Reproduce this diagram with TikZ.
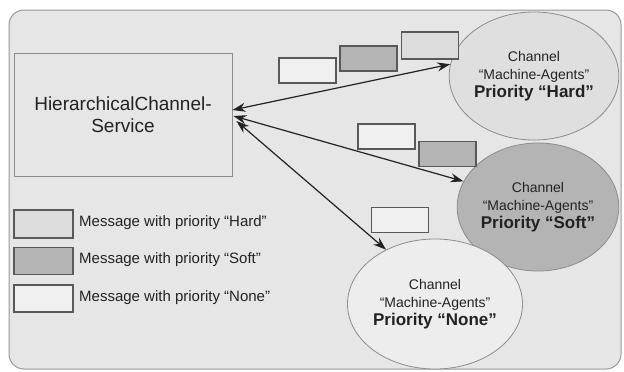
\documentclass[tikz,border=0pt]{standalone}
\usepackage{fontspec}
\setmainfont{Liberation Sans}
\usetikzlibrary{shapes.geometric,arrows.meta}
\definecolor{bgc}{HTML}{E6E6E6}
\definecolor{hardc}{HTML}{DCDCDC}
\definecolor{softc}{HTML}{B4B4B4}
\definecolor{nonec}{HTML}{F0F0F0}
\definecolor{txt}{HTML}{222222}
\tikzset{
  msg/.style={draw=black!65, line width=1.4pt, minimum width=57pt, minimum height=25pt, inner sep=0pt},
  chan/.style={ellipse, draw=black!45, line width=0.8pt, inner sep=0pt, align=center, text=txt,
    font=\fontsize{14}{18}\selectfont},
  conn/.style={{Stealth[length=13pt,width=9pt]}-{Stealth[length=13pt,width=9pt]}, line width=1.2pt, draw=txt},
  legtext/.style={anchor=west, text=txt, font=\fontsize{15}{18}\selectfont, inner sep=0pt}
}
\begin{document}
\begin{tikzpicture}[x=1pt,y=-1pt]
\useasboundingbox (0,0) rectangle (624,372);
\fill[white] (0,0) rectangle (624,372);
\draw[draw=black!40, fill=bgc, line width=1pt, rounded corners=15pt] (9,10) rectangle (621,369);

\node[draw=black!45, line width=0.9pt, fill=bgc, minimum width=218pt, minimum height=123pt, inner sep=0pt,
  align=center, text=txt, font=\fontsize{19}{22}\selectfont] (hcs) at (123,115) {HierarchicalChannel-\\Service};

\node[chan, fill=hardc!90!white, minimum width=144pt, minimum height=128pt] (hard) at (534,76)
  {Channel\\“Machine-Agents”\\{\bfseries\fontsize{17}{18}\selectfont Priority “Hard”}};
\node[chan, fill=softc, minimum width=146pt, minimum height=128pt] (soft) at (538,207)
  {Channel\\“Machine-Agents”\\{\bfseries\fontsize{17}{18}\selectfont Priority “Soft”}};
\node[chan, fill=nonec!70!bgc, minimum width=146pt, minimum height=130pt] (none) at (435,304)
  {Channel\\“Machine-Agents”\\{\bfseries\fontsize{17}{18}\selectfont Priority “None”}};

\node[msg, fill=nonec] (m1) at (307.5,70.5) {};
\node[msg, fill=softc] (m2) at (368.5,58.5) {};
\node[msg, fill=hardc, minimum height=27pt] (m3) at (430,45.5) {};
\node[msg, fill=nonec] (m4) at (386.5,136.5) {};
\node[msg, fill=softc] (m5) at (447.5,154) {};
\node[msg, fill=nonec] (m6) at (400,220) {};

\draw[conn] ([yshift=5pt]hcs.east) -- (hard.172);
\draw[conn] ([yshift=-1pt,xshift=1pt]hcs.east) -- (soft.161);
\draw[conn] ([yshift=-6pt,xshift=4pt]hcs.east) -- (none.132);

\node[msg, fill=hardc, minimum width=59pt, minimum height=28pt] (l1) at (43.5,224) {};
\node[msg, fill=softc, minimum width=59pt, minimum height=27pt] (l2) at (43.5,261) {};
\node[msg, fill=nonec, minimum width=59pt, minimum height=27pt] (l3) at (43.5,298.5) {};
\node[legtext] (t1) at (79,223) {Message with priority “Hard”};
\node[legtext] (t2) at (79,260) {Message with priority “Soft”};
\node[legtext] (t3) at (79,297.5) {Message with priority “None”};
\end{tikzpicture}
\end{document}
